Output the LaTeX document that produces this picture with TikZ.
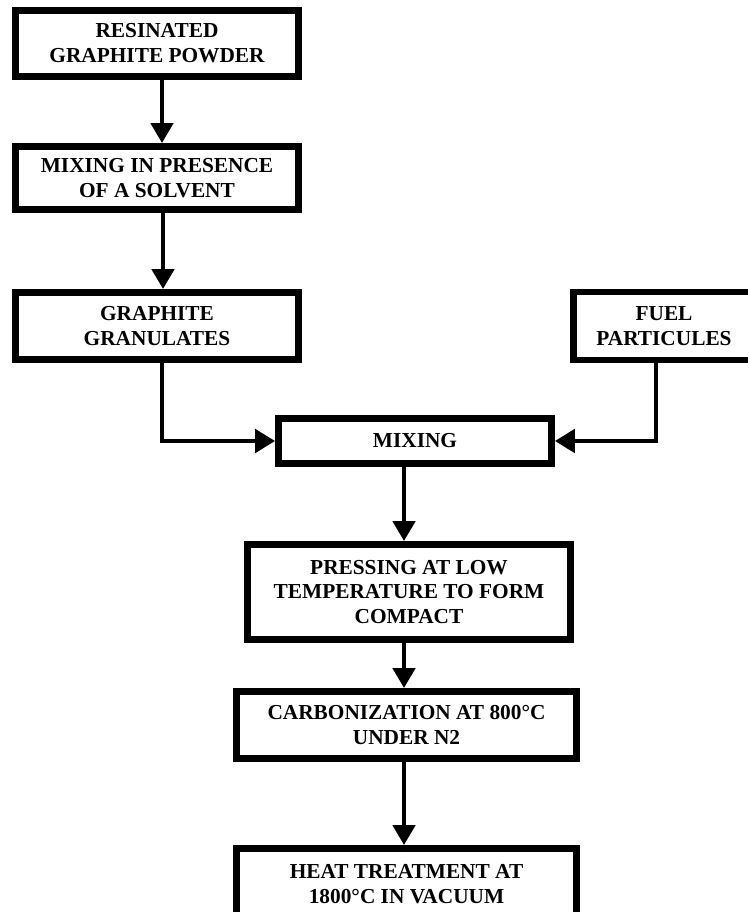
\documentclass[tikz,border=0pt]{standalone}
\usepackage{fontspec}
\setmainfont{Liberation Serif}
\usetikzlibrary{arrows.meta,calc}
\begin{document}
\begin{tikzpicture}[x=0.75pt,y=-0.75pt,
  box/.style={draw=black, line width=4.9pt, fill=white, inner sep=0pt,
    align=center, font=\fontsize{16pt}{18.6pt}\selectfont\bfseries},
  open box/.style={inner sep=0pt, align=center,
    font=\fontsize{16pt}{18.6pt}\selectfont\bfseries},
  border/.style={line width=4.9pt, line join=miter},
  flow/.style={line width=3.6pt, -{Triangle[width=16.5pt,length=15pt]}},
  feed/.style={line width=3.1pt, -{Triangle[width=17.5pt,length=15pt]}}]
\useasboundingbox (0,0) rectangle (748,912);
\clip (0,0) rectangle (748,912);

% process steps
\node[box, minimum width=212pt, minimum height=49.7pt] (resin) at (157,43.5)
  {RESINATED\\GRAPHITE POWDER};
\node[box, minimum width=212pt, minimum height=47.5pt] (solv) at (157,178)
  {MIXING IN PRESENCE\\OF A SOLVENT};
\node[box, minimum width=212pt, minimum height=50.5pt] (gran) at (157,326)
  {GRAPHITE\\GRANULATES};
% the fuel box runs off the right edge of the sheet: only three sides show
\node[open box, minimum width=140pt, minimum height=50.5pt, anchor=west] (fuel)
  at (573.3,326) {};
\node[open box] (fueltext) at (664,326) {FUEL\\PARTICULES};
\draw[border] (fuel.north east) -- (fuel.north west)
  -- (fuel.south west) -- (fuel.south east);
\node[box, minimum width=205pt, minimum height=34pt] (mix) at (415,441)
  {MIXING};
\node[box, minimum width=242.5pt, minimum height=71.5pt] (press) at (409,592)
  {PRESSING AT LOW\\TEMPERATURE TO FORM\\COMPACT};
\node[box, minimum width=255.2pt, minimum height=50.5pt] (carb) at (406.5,725)
  {CARBONIZATION AT 800°C\\UNDER N2};
\node[box, minimum width=255.2pt, minimum height=53.5pt] (heat) at (406.5,884)
  {HEAT TREATMENT AT\\1800°C IN VACUUM};

% connectors
\draw[flow] ($(resin.south)+(5,0)$) -- ($(solv.north)+(5,0)$);
\draw[flow] ($(solv.south)+(6,0)$) -- ($(gran.north)+(6,0)$);
\draw[feed] ($(gran.south)+(5,0)$) |- (mix.west);
\draw[feed] ($(fuel.south west)+(82.7,0)$) |- (mix.east);
\draw[flow] ($(mix.south)+(-11,0)$) -- ($(press.north)+(-5,0)$);
\draw[flow] ($(press.south)+(-5,0)$) -- ($(carb.north)+(-2.5,0)$);
\draw[flow] ($(carb.south)+(-2.5,0)$) -- ($(heat.north)+(-2.5,0)$);
\end{tikzpicture}
\end{document}
